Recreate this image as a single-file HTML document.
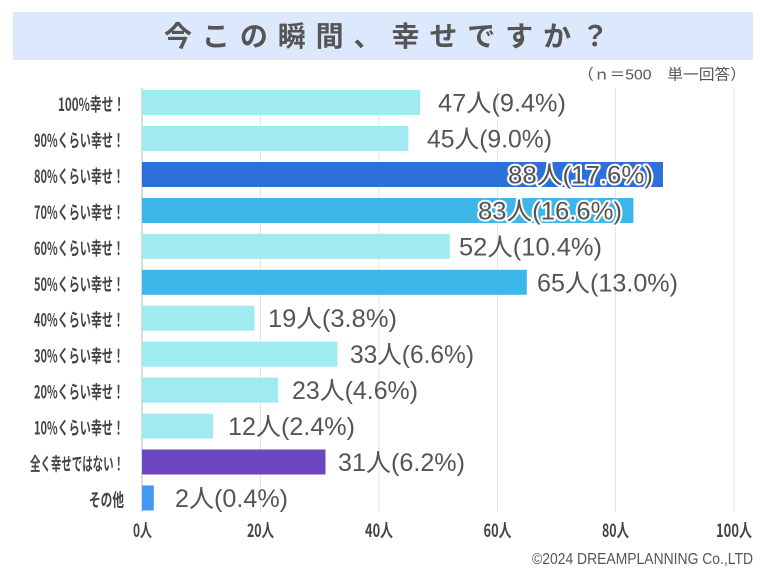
<!DOCTYPE html>
<html lang="ja">
<head>
<meta charset="utf-8">
<style>
  html,body{margin:0;padding:0;background:#fff;}
  svg{display:block;}
  .cj{font-family:"Liberation Sans","Noto Sans CJK JP",sans-serif;}
</style>
</head>
<body>
<svg width="768" height="576" viewBox="0 0 768 576" xmlns="http://www.w3.org/2000/svg">
  <rect x="0" y="0" width="768" height="576" fill="#ffffff"/>
  <!-- Title band -->
  <rect x="13" y="12" width="740" height="48" fill="#dce8fb"/>
  <text x="164" y="35" dominant-baseline="central" font-family="'Noto Sans CJK JP','Liberation Sans',sans-serif" font-weight="bold" font-size="28" fill="#555" textLength="445" lengthAdjust="spacing">今この瞬間、幸せですか？</text>

  <text x="578" y="75" dominant-baseline="central" class="cj" font-size="15" fill="#555" textLength="168" lengthAdjust="spacingAndGlyphs">（ｎ＝500　単一回答）</text>

  <!-- Gridlines -->
  <g stroke="#e6e6e6" stroke-width="1">
    <line x1="260.5" y1="88" x2="260.5" y2="512"/>
    <line x1="379" y1="88" x2="379" y2="512"/>
    <line x1="497.5" y1="88" x2="497.5" y2="512"/>
    <line x1="615.5" y1="88" x2="615.5" y2="512"/>
    <line x1="734" y1="88" x2="734" y2="512"/>
  </g>
  <line x1="142" y1="88" x2="142" y2="512" stroke="#cfcfcf" stroke-width="1.5"/>

  <!-- Bars -->
  <g>
    <rect x="142" y="90"    width="278.2" height="25" fill="#a0ebef"/>
    <rect x="142" y="126"   width="266.4" height="25" fill="#a0ebef"/>
    <rect x="142" y="162"   width="521"   height="25" fill="#2e6fd9"/>
    <rect x="142" y="198"   width="491.4" height="25" fill="#3db6ea"/>
    <rect x="142" y="233.8" width="307.8" height="25" fill="#a0ebef"/>
    <rect x="142" y="269.8" width="384.8" height="25" fill="#3db6ea"/>
    <rect x="142" y="305.7" width="112.5" height="25" fill="#a0ebef"/>
    <rect x="142" y="341.7" width="195.4" height="25" fill="#a0ebef"/>
    <rect x="142" y="377.6" width="136.2" height="25" fill="#a0ebef"/>
    <rect x="142" y="413.6" width="71"    height="25" fill="#a0ebef"/>
    <rect x="142" y="449.5" width="183.5" height="25" fill="#6d47c2"/>
    <rect x="142" y="485.5" width="11.8"  height="25" fill="#4498f0"/>
  </g>

  <!-- Category labels -->
  <g font-family="'Noto Sans CJK JP','Liberation Sans',sans-serif" font-weight="bold" font-size="18" fill="#444" text-anchor="end">
    <text x="125" y="111" textLength="67" lengthAdjust="spacingAndGlyphs">100%幸せ！</text>
    <text x="124" y="147" textLength="90" lengthAdjust="spacingAndGlyphs">90%くらい幸せ！</text>
    <text x="124" y="183" textLength="90" lengthAdjust="spacingAndGlyphs">80%くらい幸せ！</text>
    <text x="124" y="219" textLength="90" lengthAdjust="spacingAndGlyphs">70%くらい幸せ！</text>
    <text x="124" y="254.8" textLength="90" lengthAdjust="spacingAndGlyphs">60%くらい幸せ！</text>
    <text x="124" y="290.8" textLength="90" lengthAdjust="spacingAndGlyphs">50%くらい幸せ！</text>
    <text x="124" y="326.7" textLength="90" lengthAdjust="spacingAndGlyphs">40%くらい幸せ！</text>
    <text x="124" y="362.7" textLength="90" lengthAdjust="spacingAndGlyphs">30%くらい幸せ！</text>
    <text x="124" y="398.6" textLength="90" lengthAdjust="spacingAndGlyphs">20%くらい幸せ！</text>
    <text x="124" y="434.6" textLength="90" lengthAdjust="spacingAndGlyphs">10%くらい幸せ！</text>
    <text x="124" y="470.5" textLength="94" lengthAdjust="spacingAndGlyphs">全く幸せではない！</text>
    <text x="124" y="506.5" textLength="35" lengthAdjust="spacingAndGlyphs">その他</text>
  </g>

  <!-- Value labels -->
  <g class="cj" font-size="25" fill="#555">
    <text x="438" y="111.5" textLength="128" lengthAdjust="spacingAndGlyphs">47人(9.4%)</text>
    <text x="427" y="147.5" textLength="125" lengthAdjust="spacingAndGlyphs">45人(9.0%)</text>
    <text x="508" y="183.5" textLength="145" lengthAdjust="spacingAndGlyphs" stroke="#ffffff" stroke-width="4" stroke-linejoin="round" paint-order="stroke" fill="#555">88人(17.6%)</text>
    <text x="478" y="219.5" textLength="144" lengthAdjust="spacingAndGlyphs" stroke="#ffffff" stroke-width="4" stroke-linejoin="round" paint-order="stroke" fill="#555">83人(16.6%)</text>
    <text x="459" y="255.3" textLength="143" lengthAdjust="spacingAndGlyphs">52人(10.4%)</text>
    <text x="537" y="291.3" textLength="141" lengthAdjust="spacingAndGlyphs">65人(13.0%)</text>
    <text x="268" y="327.2" textLength="129" lengthAdjust="spacingAndGlyphs">19人(3.8%)</text>
    <text x="350" y="363.2" textLength="124" lengthAdjust="spacingAndGlyphs">33人(6.6%)</text>
    <text x="292" y="399.1" textLength="126" lengthAdjust="spacingAndGlyphs">23人(4.6%)</text>
    <text x="228" y="435.1" textLength="127" lengthAdjust="spacingAndGlyphs">12人(2.4%)</text>
    <text x="338" y="471"   textLength="127" lengthAdjust="spacingAndGlyphs">31人(6.2%)</text>
    <text x="175" y="507"   textLength="113" lengthAdjust="spacingAndGlyphs">2人(0.4%)</text>
  </g>

  <!-- Axis tick labels -->
  <g font-family="'Noto Sans CJK JP','Liberation Sans',sans-serif" font-weight="bold" font-size="18" fill="#444" text-anchor="middle">
    <text x="142.5" y="537" textLength="19" lengthAdjust="spacingAndGlyphs">0人</text>
    <text x="260.5" y="537" textLength="27" lengthAdjust="spacingAndGlyphs">20人</text>
    <text x="379"   y="537" textLength="28" lengthAdjust="spacingAndGlyphs">40人</text>
    <text x="497.5" y="537" textLength="28" lengthAdjust="spacingAndGlyphs">60人</text>
    <text x="615.5" y="537" textLength="27" lengthAdjust="spacingAndGlyphs">80人</text>
    <text x="734"   y="537" textLength="36" lengthAdjust="spacingAndGlyphs">100人</text>
  </g>

  <!-- Copyright -->
  <text x="532" y="564" font-family="'Liberation Sans',sans-serif" font-size="16" fill="#555" textLength="221" lengthAdjust="spacingAndGlyphs">©2024 DREAMPLANNING Co.,LTD</text>
</svg>
</body>
</html>
